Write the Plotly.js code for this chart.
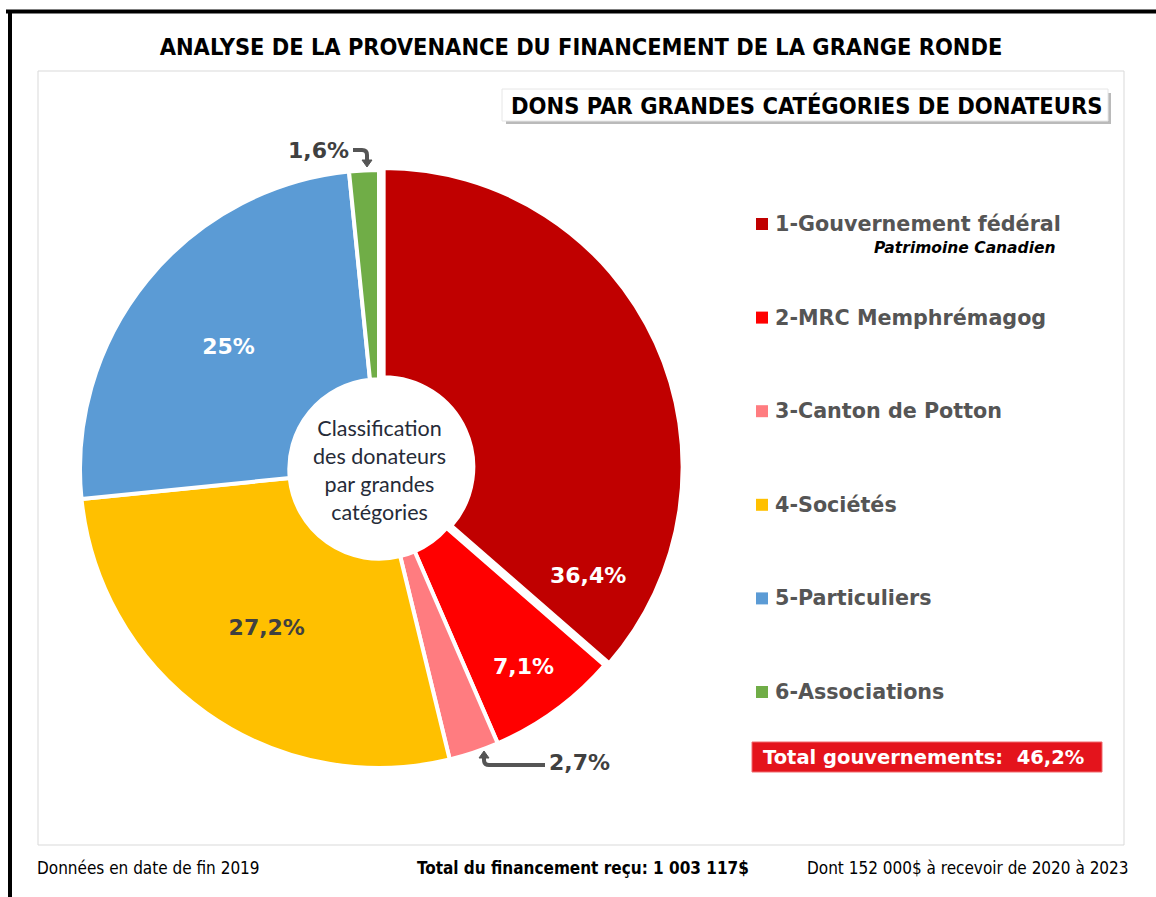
<!DOCTYPE html>
<html>
<head>
<meta charset="utf-8">
<script src="https://cdn.plot.ly/plotly-3.0.1.min.js"></script>
<style>
  html, body { margin: 0; padding: 0; background: #ffffff; }
  #chart { width: 1156px; height: 897px; }
</style>
</head>
<body>
<div id="chart"></div>
<script>
// ---------- DATA ----------
const categories = [
  "1-Gouvernement fédéral",
  "2-MRC Memphrémagog",
  "3-Canton de Potton",
  "4-Sociétés",
  "5-Particuliers",
  "6-Associations"
];
const shares = [36.4, 7.1, 2.7, 27.2, 25, 1.6];
const sliceColors = ["#C00000", "#FF0000", "#FF7C80", "#FFC000", "#5B9BD5", "#70AD47"];
const labelColors = ["#FFFFFF", "#FFFFFF", "#FFFFFF", "#404040", "#FFFFFF", "#FFFFFF"];
const labelInside = [false, true, false, true, true, false];
const subLabel = "Patrimoine Canadien";
const totalGovText = "Total gouvernements:\u00a0\u00a046,2%";
const titleText = "ANALYSE DE LA PROVENANCE DU FINANCEMENT DE LA GRANGE RONDE";
const subtitleText = "DONS PAR GRANDES CATÉGORIES DE DONATEURS";
const centerText = ["Classification", "des donateurs", "par grandes", "catégories"];
const footLeft = "Données en date de fin 2019";
const footMid = "Total du financement reçu: 1 003 117$";
const footRight = "Dont 152 000$ à recevoir de 2020 à 2023";

// ---------- HELPERS ----------
const W = 1156, H = 897;
const X = px => px / W;
const Y = py => 1 - py / H;
const fmt = v => String(v).replace('.', ',') + '%';

const pctText = shares.map(fmt);
const sliceText = pctText.map((t, i) => labelInside[i] ? t : '');
const textPos = labelInside.map(b => b ? 'inside' : 'none');

const cx = 379, cy = 469, R = 299, pull = 0.017;
const half = R * (1 + pull);
const labelFont = { family: 'DejaVu Sans, sans-serif', size: 22, weight: 700 };

const trace = {
  type: 'pie',
  values: shares,
  labels: categories,
  marker: { colors: sliceColors, line: { color: '#FFFFFF', width: 4 } },
  sort: false,
  direction: 'clockwise',
  rotation: 0,
  hole: 0.3,
  pull: shares.map((v, i) => i === 0 ? pull : 0),
  text: sliceText,
  textinfo: 'text',
  textposition: textPos,
  insidetextorientation: 'horizontal',
  insidetextfont: Object.assign({}, labelFont, { color: labelColors }),
  showlegend: false,
  hoverinfo: 'label+percent',
  domain: { x: [X(cx - half), X(cx + half)], y: [Y(cy + half), Y(cy - half)] }
};

const shapes = [];
const annotations = [];

// outer frame (black) and inner grey box
shapes.push({ type: 'line', xref: 'paper', yref: 'paper', x0: X(6), x1: X(1160), y0: Y(11.5), y1: Y(11.5), line: { color: '#000000', width: 4 } });
shapes.push({ type: 'line', xref: 'paper', yref: 'paper', x0: X(10), x1: X(10), y0: Y(10), y1: Y(905), line: { color: '#000000', width: 4 } });
shapes.push({ type: 'rect', xref: 'paper', yref: 'paper', x0: X(38), x1: X(1124), y0: Y(845), y1: Y(71), line: { color: '#D9D9D9', width: 1 }, layer: 'below' });

// subtitle box with shadow
shapes.push({ type: 'rect', xref: 'paper', yref: 'paper', x0: X(506), x1: X(1111), y0: Y(124), y1: Y(93), fillcolor: '#8C8C8C', line: { width: 0 }, opacity: 0.6 });
shapes.push({ type: 'rect', xref: 'paper', yref: 'paper', x0: X(502), x1: X(1108), y0: Y(121), y1: Y(89), fillcolor: '#FFFFFF', line: { color: '#E6E6E6', width: 1 } });
annotations.push({ xref: 'paper', yref: 'paper', x: X(806), y: Y(106), xanchor: 'center', yanchor: 'middle', showarrow: false,
  text: '<b>' + subtitleText + '</b>', font: { family: 'DejaVu Sans Condensed, Liberation Sans Narrow, DejaVu Sans', size: 23.5, color: '#000000' } });

// white hole circle
shapes.push({ type: 'circle', xref: 'paper', yref: 'paper', x0: X(cx - 90), x1: X(cx + 90), y0: Y(cy + 90), y1: Y(cy - 90), fillcolor: '#FFFFFF', line: { width: 0 }, layer: 'above' });
annotations.push({ xref: 'paper', yref: 'paper', x: X(cx), y: Y(cy + 1), xanchor: 'center', yanchor: 'middle', showarrow: false,
  text: centerText.join('<br>'), font: { family: 'Lato, Open Sans, sans-serif', size: 21.5, color: '#262B38' } });

// label of the large federal slice (placed by hand in the reference)
annotations.push({ xref: 'paper', yref: 'paper', x: X(588), y: Y(575), xanchor: 'center', yanchor: 'middle', showarrow: false,
  text: '<b>' + pctText[0] + '</b>', font: Object.assign({}, labelFont, { color: labelColors[0] }) });

// outside labels with elbow arrows
const arrowCol = '#555555';
annotations.push({ xref: 'paper', yref: 'paper', x: X(318), y: Y(150), xanchor: 'center', yanchor: 'middle', showarrow: false,
  text: '<b>' + pctText[5] + '</b>', font: Object.assign({}, labelFont, { color: '#404040' }) });
shapes.push({ type: 'path', xref: 'paper', yref: 'paper', path: `M ${X(353)} ${Y(150)} L ${X(362)} ${Y(150)} Q ${X(367)} ${Y(150)} ${X(367)} ${Y(155)} L ${X(367)} ${Y(161)}`, line: { color: arrowCol, width: 4 } });
shapes.push({ type: 'path', xref: 'paper', yref: 'paper', path: `M ${X(362)} ${Y(160)} L ${X(372)} ${Y(160)} L ${X(367)} ${Y(167)} Z`, fillcolor: arrowCol, line: { color: arrowCol, width: 1 } });

annotations.push({ xref: 'paper', yref: 'paper', x: X(579), y: Y(762), xanchor: 'center', yanchor: 'middle', showarrow: false,
  text: '<b>' + pctText[2] + '</b>', font: Object.assign({}, labelFont, { color: '#404040' }) });
shapes.push({ type: 'path', xref: 'paper', yref: 'paper', path: `M ${X(545)} ${Y(765)} L ${X(489)} ${Y(765)} Q ${X(484)} ${Y(765)} ${X(484)} ${Y(760)} L ${X(484)} ${Y(757)}`, line: { color: arrowCol, width: 4 } });
shapes.push({ type: 'path', xref: 'paper', yref: 'paper', path: `M ${X(479)} ${Y(758)} L ${X(489)} ${Y(758)} L ${X(484)} ${Y(751)} Z`, fillcolor: arrowCol, line: { color: arrowCol, width: 1 } });

// custom legend
const legY0 = 224, legStep = 93.6;
categories.forEach((c, i) => {
  const yy = legY0 + i * legStep;
  shapes.push({ type: 'rect', xref: 'paper', yref: 'paper', x0: X(756), x1: X(768), y0: Y(yy + 6), y1: Y(yy - 6), fillcolor: sliceColors[i], line: { width: 0 } });
  annotations.push({ xref: 'paper', yref: 'paper', x: X(773), y: Y(yy), xanchor: 'left', yanchor: 'middle', showarrow: false,
    text: '<b>' + c + '</b>', font: { family: 'DejaVu Sans, sans-serif', size: 20.7, color: '#555555' } });
});
annotations.push({ xref: 'paper', yref: 'paper', x: X(1058), y: Y(248), xanchor: 'right', yanchor: 'middle', showarrow: false,
  text: '<b><i>' + subLabel + '</i></b>', font: { family: 'DejaVu Sans, sans-serif', size: 15.5, color: '#000000' } });

// total governments box
shapes.push({ type: 'rect', xref: 'paper', yref: 'paper', x0: X(752), x1: X(1102), y0: Y(772), y1: Y(742), fillcolor: '#E4141C', line: { color: '#F06A6E', width: 1 } });
annotations.push({ xref: 'paper', yref: 'paper', x: X(761), y: Y(757), xanchor: 'left', yanchor: 'middle', showarrow: false,
  text: '<b>' + totalGovText + '</b>', font: { family: 'DejaVu Sans, sans-serif', size: 19.5, color: '#FFFFFF' } });

// footer
const footFont = { family: 'DejaVu Sans Condensed, Liberation Sans Narrow, DejaVu Sans', size: 17, color: '#000000' };
annotations.push({ xref: 'paper', yref: 'paper', x: X(35), y: Y(868), xanchor: 'left', yanchor: 'middle', showarrow: false, text: footLeft, font: footFont });
annotations.push({ xref: 'paper', yref: 'paper', x: X(583), y: Y(868), xanchor: 'center', yanchor: 'middle', showarrow: false, text: '<b>' + footMid + '</b>', font: footFont });
annotations.push({ xref: 'paper', yref: 'paper', x: X(1131), y: Y(868), xanchor: 'right', yanchor: 'middle', showarrow: false, text: footRight, font: footFont });

const layout = {
  width: W, height: H,
  autosize: false,
  margin: { l: 0, r: 0, t: 0, b: 0 },
  paper_bgcolor: '#FFFFFF',
  plot_bgcolor: '#FFFFFF',
  title: { text: '<b>' + titleText + '</b>', x: X(581), xanchor: 'center', y: Y(47), yanchor: 'middle', yref: 'container',
    font: { family: 'DejaVu Sans Condensed, Liberation Sans Narrow, DejaVu Sans', size: 23.4, color: '#000000' } },
  shapes: shapes,
  annotations: annotations,
  showlegend: false
};

Plotly.newPlot('chart', [trace], layout, { displayModeBar: false, staticPlot: true });
</script>
</body>
</html>
